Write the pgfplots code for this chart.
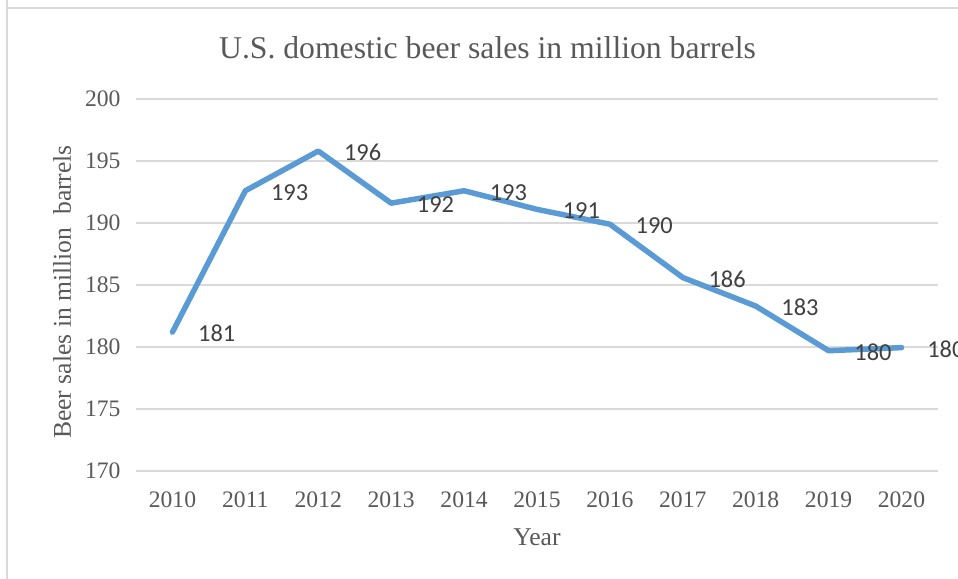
\documentclass[border=0pt]{standalone}
\usepackage{fontspec}
\setmainfont{Liberation Serif}
\newfontfamily\lblfont{Carlito}
\usepackage{pgfplots}
\pgfplotsset{compat=1.18}
\definecolor{linec}{HTML}{5B9BD5}
\definecolor{gridc}{HTML}{D9D9D9}
\definecolor{txtc}{HTML}{595959}
\definecolor{lblc}{HTML}{404040}
\begin{document}
\begin{tikzpicture}[x=1bp,y=1bp]
\path[use as bounding box] (0,0) rectangle (958,579);
\draw[gridc, line width=1.5bp] (7,590) -- (7,571) -- (970,571);
\draw[gridc, line width=1.5bp] (7,571) -- (7,-10);
\begin{axis}[
  at={(136bp,108bp)}, anchor=south west,
  scale only axis, width=802bp, height=372bp,
  xmin=2009.5, xmax=2020.5, ymin=170, ymax=200,
  xtick={2010,...,2020}, ytick={170,175,...,200},
  xticklabel style={/pgf/number format/1000 sep={}},
  /pgf/number format/assume math mode=true,
  axis line style={draw=none},
  major tick length=0pt,
  ymajorgrids, grid style={gridc, line width=1.3bp},
  tick label style={font=\fontsize{23.7}{28}\selectfont, text=txtc},
  xticklabel style={yshift=-17bp},
  yticklabel style={xshift=-12bp},
  clip=false,
  nodes near coords,
  point meta=explicit symbolic,
  every node near coord/.style={anchor=west, xshift=23bp, yshift=-1.5bp, inner sep=0pt,
     font=\lblfont\fontsize{24.5}{28}\selectfont, text=lblc},
]
\addplot[linec, line width=5.5bp, line join=round, line cap=round, mark=none]
  coordinates {
  (2010,181.2) [181]
  (2011,192.6) [193]
  (2012,195.8) [196]
  (2013,191.6) [192]
  (2014,192.6) [193]
  (2015,191.1) [191]
  (2016,189.9) [190]
  (2017,185.6) [186]
  (2018,183.3) [183]
  (2019,179.7) [180]
  (2020,179.95) [180]
  };
\end{axis}
\node[text=txtc, font=\fontsize{31.8}{36}\selectfont] at (487.5,531) {U.S. domestic beer sales in million barrels};
\node[text=txtc, font=\fontsize{25.7}{30}\selectfont, rotate=90] at (62,287) {Beer sales in million\ \ barrels};
\node[text=txtc, font=\fontsize{25.7}{30}\selectfont] at (537,42) {Year};
\end{tikzpicture}
\end{document}
